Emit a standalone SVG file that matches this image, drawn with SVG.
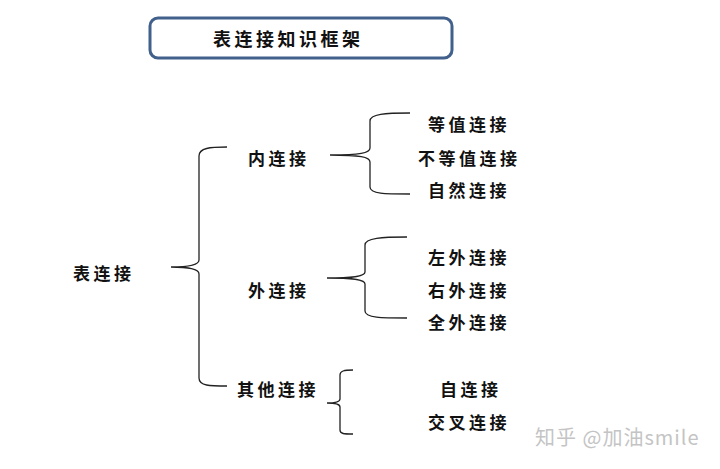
<svg xmlns="http://www.w3.org/2000/svg" width="720" height="469" viewBox="0 0 720 469">
<style>
.t{font-family:"Noto Sans CJK SC","Noto Sans CJK JP",sans-serif;font-size:17px;font-weight:bold;fill:#111;letter-spacing:3.5px;dominant-baseline:central}
.b{fill:none;stroke:#222;stroke-width:1.3}
</style>
<rect width="720" height="469" fill="#fff"/>
<g id="title">
<rect x="150" y="18" width="302" height="40" rx="8" fill="#fff" stroke="#41608c" stroke-width="3"/>
<text class="t" x="213" y="38" style="font-size:18px;letter-spacing:3.5px">表连接知识框架</text>
</g>
<g id="connectors">
<path class="b" d="M227,147 C210,147 199,148 199,156 L199,260 C199,265 190,267 171,267 C190,267 199,269 199,274 L199,378 C199,386 210,386 227,386"/>
<path class="b" d="M410,113 C385,113 370,114 370,121 L370,148 C370,153 360,155 330,155 C360,155 370,157 370,162 L370,187 C370,194 385,194 410,194"/>
<path class="b" d="M407,237 C382,237 365,238 365,245 L365,272 C365,276 355,278 327,278 C355,278 365,280 365,284 L365,311 C365,318 382,318 407,318"/>
<path class="b" d="M353,370 C344,370 340,371 340,375 L340,399 C340,402 335,403 327,403 C335,403 340,404 340,407 L340,430 C340,434 344,434 353,434"/>
</g>
<g id="root"><text class="t" x="73" y="272">表连接</text></g>
<g id="inner"><text class="t" x="248" y="157">内连接</text></g>
<g id="outer"><text class="t" x="248" y="289">外连接</text></g>
<g id="other"><text class="t" x="237" y="388">其他连接</text></g>
<g id="equi"><text class="t" x="428" y="123">等值连接</text></g>
<g id="nonequi"><text class="t" x="418" y="157">不等值连接</text></g>
<g id="natural"><text class="t" x="428" y="189">自然连接</text></g>
<g id="left"><text class="t" x="428" y="256">左外连接</text></g>
<g id="right"><text class="t" x="428" y="289">右外连接</text></g>
<g id="full"><text class="t" x="428" y="321">全外连接</text></g>
<g id="self"><text class="t" x="440" y="388">自连接</text></g>
<g id="cross"><text class="t" x="428" y="421">交叉连接</text></g>
<text x="535" y="445" style="font-family:'Noto Sans CJK SC',sans-serif;font-size:20px;letter-spacing:1px;fill:#c4c4c4">知乎 @加油smile</text>
</svg>
